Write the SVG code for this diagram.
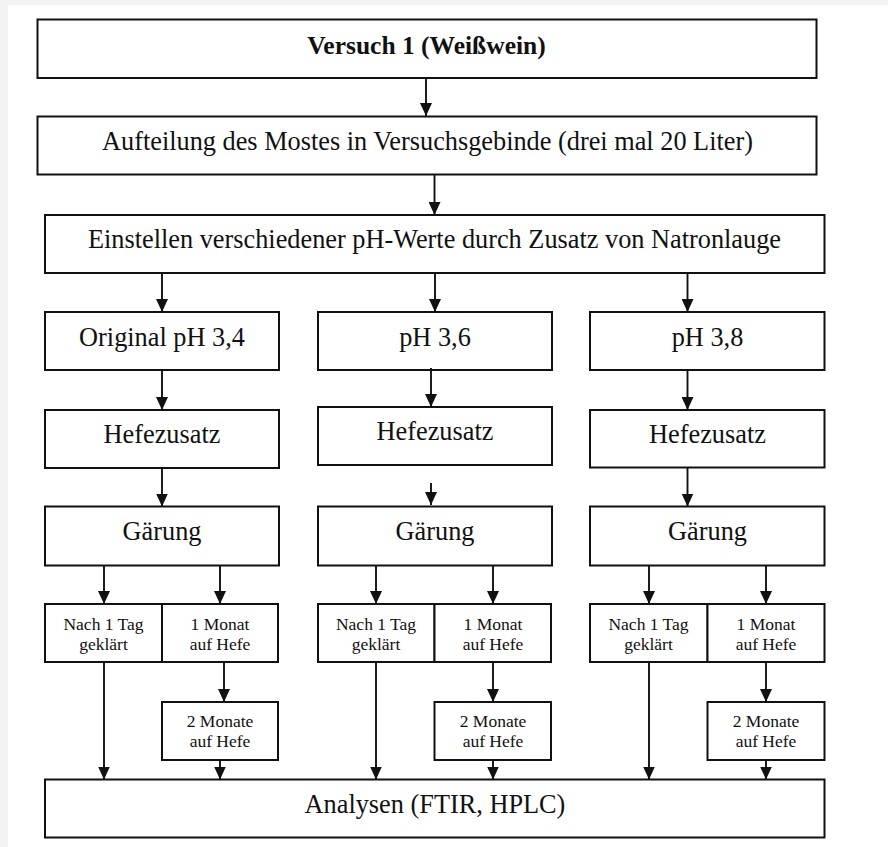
<svg xmlns="http://www.w3.org/2000/svg" width="888" height="847" viewBox="0 0 888 847">
<defs>
<style>
.box{fill:#fff;stroke:#111;stroke-width:2}
.t{font-size:26.3px;fill:#111;text-anchor:middle}
.b{font-weight:bold;font-size:25.5px}
.s{font-size:17.5px}
.c{stroke:#111;stroke-width:1.9;fill:none;marker-end:url(#ah)}
</style>
<marker id="ah" markerUnits="userSpaceOnUse" markerWidth="13" markerHeight="12" viewBox="0 0 13 12" refX="13" refY="6" orient="auto">
<path d="M0,0 L13,6 L0,12 z" fill="#111"/>
</marker>
</defs>
<rect x="0" y="0" width="888" height="847" fill="#f2f3f3"/>
<rect x="8" y="5" width="880" height="842" fill="#fff"/>
<g font-family="Liberation Serif, Times New Roman, serif">
<g id="n1"><rect class="box" x="37.5" y="19.5" width="779" height="58.5"/><text class="t b" x="426.5" y="54">Versuch 1 (Weißwein)</text></g>
<g id="n2"><rect class="box" x="37.5" y="116.5" width="779" height="58"/><text class="t" x="427.5" y="150">Aufteilung des Mostes in Versuchsgebinde (drei mal 20 Liter)</text></g>
<g id="n3"><rect class="box" x="45" y="215" width="779.5" height="58"/><text class="t" x="434.5" y="247.5">Einstellen verschiedener pH-Werte durch Zusatz von Natronlauge</text></g>

<g id="n4"><rect class="box" x="45" y="312" width="234" height="58"/><text class="t" x="162" y="346">Original pH 3,4</text></g>
<g id="n5"><rect class="box" x="318" y="312" width="234" height="58"/><text class="t" x="435" y="346">pH 3,6</text></g>
<g id="n6"><rect class="box" x="590" y="312" width="234.5" height="58"/><text class="t" x="707.5" y="346">pH 3,8</text></g>

<g id="n7"><rect class="box" x="45" y="410" width="234" height="58"/><text class="t" x="162" y="442.5">Hefezusatz</text></g>
<g id="n8"><rect class="box" x="318" y="407" width="234" height="58"/><text class="t" x="435" y="440">Hefezusatz</text></g>
<g id="n9"><rect class="box" x="590" y="410" width="234.5" height="57.5"/><text class="t" x="707.5" y="442.5">Hefezusatz</text></g>

<g id="n10"><rect class="box" x="45" y="506.5" width="234" height="59"/><text class="t" x="162" y="539.5">Gärung</text></g>
<g id="n11"><rect class="box" x="318" y="506.5" width="234" height="59"/><text class="t" x="435" y="539.5">Gärung</text></g>
<g id="n12"><rect class="box" x="590" y="506.5" width="234.5" height="59"/><text class="t" x="707.5" y="539.5">Gärung</text></g>

<g id="n13"><rect class="box" x="45" y="604" width="117" height="58"/><text class="t s" x="103.5" y="630">Nach 1 Tag</text><text class="t s" x="103.5" y="649.5">geklärt</text></g>
<g id="n14"><rect class="box" x="162" y="604" width="116" height="58"/><text class="t s" x="220" y="630">1 Monat</text><text class="t s" x="220" y="649.5">auf Hefe</text></g>
<g id="n15"><rect class="box" x="318" y="604" width="116.5" height="58"/><text class="t s" x="376" y="630">Nach 1 Tag</text><text class="t s" x="376" y="649.5">geklärt</text></g>
<g id="n16"><rect class="box" x="434.5" y="604" width="116.5" height="58"/><text class="t s" x="493" y="630">1 Monat</text><text class="t s" x="493" y="649.5">auf Hefe</text></g>
<g id="n17"><rect class="box" x="590" y="604" width="117.5" height="58"/><text class="t s" x="648.5" y="630">Nach 1 Tag</text><text class="t s" x="648.5" y="649.5">geklärt</text></g>
<g id="n18"><rect class="box" x="707.5" y="604" width="117" height="58"/><text class="t s" x="766" y="630">1 Monat</text><text class="t s" x="766" y="649.5">auf Hefe</text></g>

<g id="n19"><rect class="box" x="162" y="702" width="116" height="58"/><text class="t s" x="220" y="727">2 Monate</text><text class="t s" x="220" y="747">auf Hefe</text></g>
<g id="n20"><rect class="box" x="434.5" y="702" width="116.5" height="58"/><text class="t s" x="493" y="727">2 Monate</text><text class="t s" x="493" y="747">auf Hefe</text></g>
<g id="n21"><rect class="box" x="707.5" y="702" width="117" height="58"/><text class="t s" x="766" y="727">2 Monate</text><text class="t s" x="766" y="747">auf Hefe</text></g>

<g id="n22"><rect class="box" x="45" y="779.5" width="779.5" height="58"/><text class="t" x="435" y="812.5">Analysen (FTIR, HPLC)</text></g>
</g>
<g id="connectors">
<path class="c" d="M426,78 V116"/>
<path class="c" d="M434.5,175 V215"/>
<path class="c" d="M162,273 V312"/>
<path class="c" d="M435,273 V312"/>
<path class="c" d="M687.5,273 V312"/>
<path class="c" d="M162,370 V410"/>
<path class="c" d="M431,368 V407"/>
<path class="c" d="M687.5,370 V410"/>
<path class="c" d="M162,468 V506.5"/>
<path class="c" d="M431,483 V505"/>
<path class="c" d="M687.5,467.5 V506.5"/>
<path class="c" d="M104,565.5 V604"/>
<path class="c" d="M220,565.5 V604"/>
<path class="c" d="M376,565.5 V604"/>
<path class="c" d="M493,565.5 V604"/>
<path class="c" d="M649,565.5 V604"/>
<path class="c" d="M766,565.5 V604"/>
<path class="c" d="M224,662 V702"/>
<path class="c" d="M493,662 V702"/>
<path class="c" d="M766,662 V702"/>
<path class="c" d="M104,662 V779.5"/>
<path class="c" d="M220,760 V779.5"/>
<path class="c" d="M376,662 V779.5"/>
<path class="c" d="M493,760 V779.5"/>
<path class="c" d="M649,662 V779.5"/>
<path class="c" d="M766,760 V779.5"/>
</g>
</svg>
